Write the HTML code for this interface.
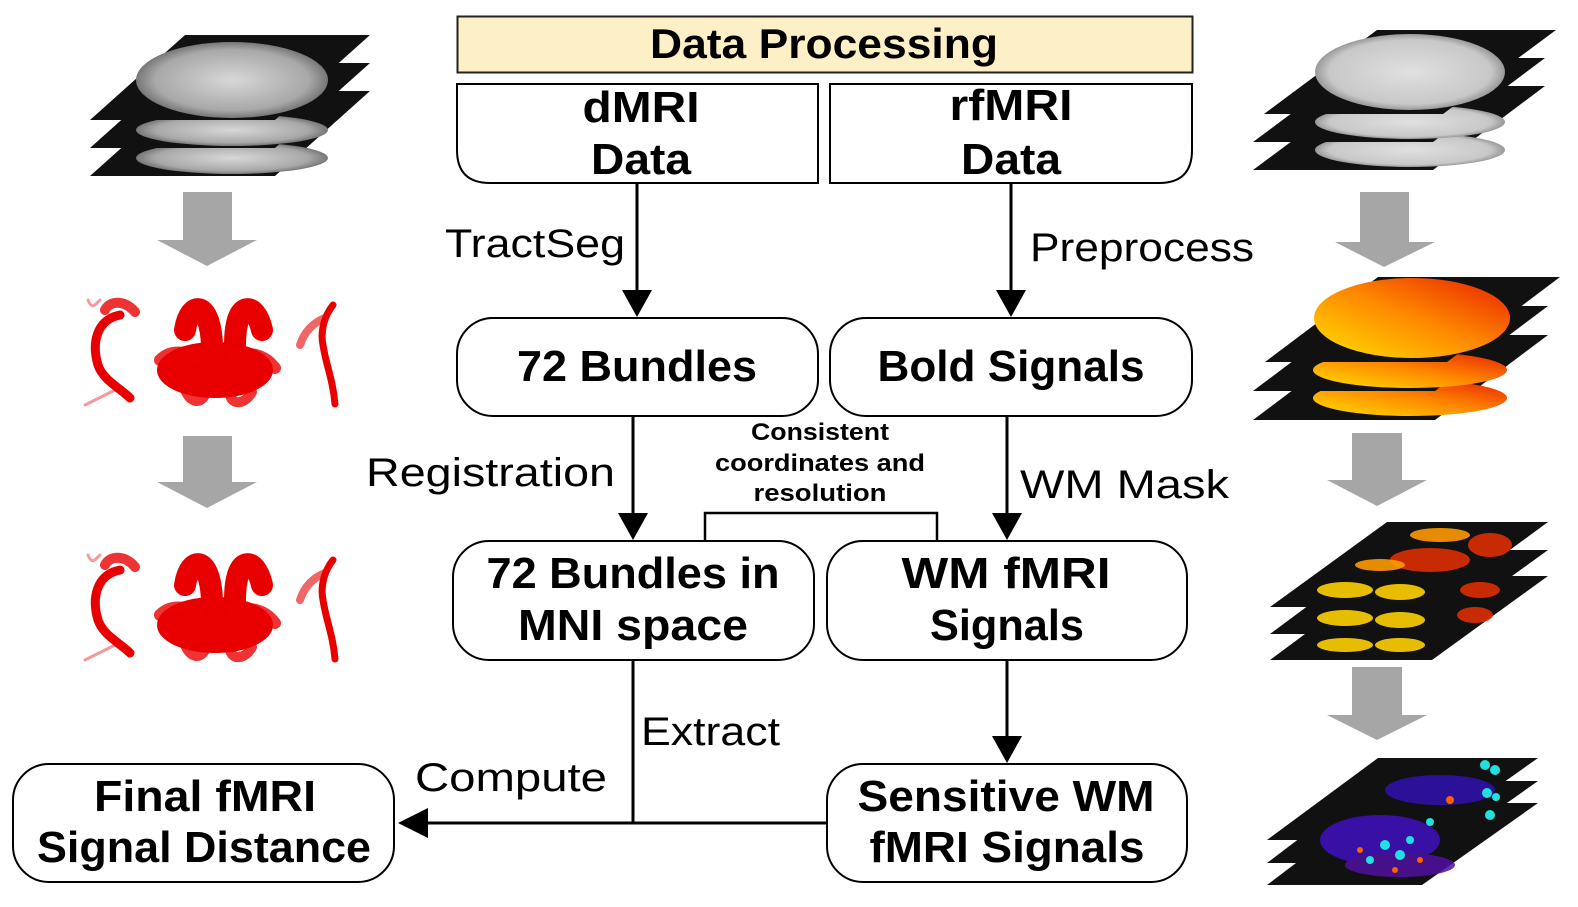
<!DOCTYPE html>
<html><head><meta charset="utf-8"><style>
html,body{margin:0;padding:0;background:#fff;}
svg{display:block;}
.b{font-family:"Liberation Sans",sans-serif;font-weight:bold;fill:#000;}
.r{font-family:"Liberation Sans",sans-serif;fill:#000;}
</style></head><body>
<svg width="1578" height="907" viewBox="0 0 1578 907" xmlns="http://www.w3.org/2000/svg">
<defs>
<radialGradient id="gg" cx="50%" cy="50%" r="50%"><stop offset="0" stop-color="#d8d8d8"/><stop offset="0.8" stop-color="#a8a8a8"/><stop offset="1" stop-color="#777"/></radialGradient>
<radialGradient id="gl" cx="50%" cy="50%" r="50%"><stop offset="0" stop-color="#e0e0e0"/><stop offset="0.85" stop-color="#c8c8c8"/><stop offset="1" stop-color="#999"/></radialGradient>
<linearGradient id="go" x1="0" y1="1" x2="1" y2="0"><stop offset="0" stop-color="#ffe000"/><stop offset="0.5" stop-color="#ff8a00"/><stop offset="1" stop-color="#e82000"/></linearGradient>
<marker id="ah" markerWidth="10" markerHeight="10" refX="9" refY="5" orient="auto" markerUnits="userSpaceOnUse"></marker>
</defs>

<!-- Left dMRI stack -->
<g>
<polygon points="185,91 370,91 275,176 90,176" fill="#111"/>
<ellipse cx="232" cy="158" rx="96" ry="16" fill="url(#gg)"/>
<polygon points="185,63 370,63 275,148 90,148" fill="#111"/>
<ellipse cx="232" cy="130" rx="96" ry="16" fill="url(#gg)"/>
<polygon points="185,35 370,35 275,120 90,120" fill="#111"/>
<ellipse cx="232" cy="80" rx="96" ry="38" fill="url(#gg)"/>
</g>

<!-- Right grey stack -->
<g>
<polygon points="1366,86 1545,86 1433,170 1253,170" fill="#111"/>
<ellipse cx="1410" cy="150" rx="95" ry="17" fill="url(#gl)"/>
<polygon points="1366,58 1545,58 1433,142 1253,142" fill="#111"/>
<ellipse cx="1410" cy="122" rx="95" ry="17" fill="url(#gl)"/>
<polygon points="1377,30 1556,30 1443,114 1264,114" fill="#111"/>
<ellipse cx="1410" cy="72" rx="95" ry="38" fill="url(#gl)"/>
</g>

<!-- Right orange stack -->
<g>
<polygon points="1366,335 1548,335 1435,420 1253,420" fill="#111"/>
<ellipse cx="1410" cy="398" rx="97" ry="18" fill="url(#go)"/>
<polygon points="1366,306 1548,306 1435,391 1253,391" fill="#111"/>
<ellipse cx="1410" cy="370" rx="97" ry="18" fill="url(#go)"/>
<polygon points="1378,277 1560,277 1447,362 1265,362" fill="#111"/>
<ellipse cx="1412" cy="318" rx="98" ry="40" fill="url(#go)"/>
</g>

<!-- Right star stack -->
<g>
<polygon points="1383,576 1548,576 1432,660 1270,660" fill="#111"/>
<polygon points="1383,550 1548,550 1432,634 1270,634" fill="#111"/>
<polygon points="1387,522 1548,522 1432,607 1270,607" fill="#111"/>
<g fill="#ffd000" opacity="0.9">
<ellipse cx="1345" cy="590" rx="28" ry="8"/><ellipse cx="1400" cy="592" rx="25" ry="8"/>
<ellipse cx="1345" cy="618" rx="28" ry="8"/><ellipse cx="1400" cy="620" rx="25" ry="8"/>
<ellipse cx="1345" cy="645" rx="28" ry="7"/><ellipse cx="1400" cy="645" rx="25" ry="7"/>
</g>
<g fill="#e83000" opacity="0.85">
<ellipse cx="1430" cy="560" rx="40" ry="12"/><ellipse cx="1490" cy="545" rx="22" ry="12"/>
<ellipse cx="1480" cy="590" rx="20" ry="8"/><ellipse cx="1475" cy="615" rx="18" ry="8"/>
</g>
<g fill="#ff9a00" opacity="0.9"><ellipse cx="1440" cy="535" rx="30" ry="7"/><ellipse cx="1380" cy="565" rx="25" ry="6"/></g>
</g>

<!-- Right blue stack -->
<g>
<polygon points="1375,803 1538,803 1422,885 1267,885" fill="#111"/>
<polygon points="1375,781 1538,781 1422,863 1267,863" fill="#111"/>
<polygon points="1378,758 1538,758 1422,840 1267,840" fill="#111"/>
<g opacity="0.85">
<ellipse cx="1380" cy="840" rx="60" ry="25" fill="#4010c0"/>
<ellipse cx="1440" cy="790" rx="55" ry="15" fill="#3010b0"/>
<ellipse cx="1400" cy="865" rx="55" ry="12" fill="#5010a0"/>
</g>
<g fill="#20e0e0">
<circle cx="1485" cy="765" r="5"/><circle cx="1495" cy="770" r="5"/><circle cx="1487" cy="793" r="5"/><circle cx="1496" cy="797" r="4"/><circle cx="1490" cy="815" r="5"/>
<circle cx="1385" cy="845" r="5"/><circle cx="1400" cy="855" r="5"/><circle cx="1370" cy="860" r="4"/><circle cx="1410" cy="840" r="4"/><circle cx="1430" cy="822" r="4"/>
</g>
<g fill="#ff6000"><circle cx="1360" cy="850" r="3"/><circle cx="1420" cy="860" r="3"/><circle cx="1450" cy="800" r="4"/><circle cx="1395" cy="870" r="3"/></g>
</g>

<!-- Gray block arrows -->
<g fill="#a6a6a6">
<polygon points="183,192 232,192 232,240 257,240 207,266 157,240 183,240"/>
<polygon points="183,436 232,436 232,482 257,482 207,508 157,482 183,482"/>
<polygon points="1360,192 1409,192 1409,242 1435,242 1384,267 1335,242 1360,242"/>
<polygon points="1352,433 1402,433 1402,480 1427,480 1377,506 1327,480 1352,480"/>
<polygon points="1352,667 1402,667 1402,715 1427,715 1377,740 1327,715 1352,715"/>
</g>

<!-- Fibers -->
<g id="fib" fill="none" stroke="#e80000" stroke-linecap="round">
<path d="M120,315 C95,320 92,345 98,365 C103,380 120,388 130,398" stroke-width="9"/>
<path d="M105,310 C110,300 125,300 135,312" stroke-width="10" opacity="0.8"/>
<path d="M115,390 C105,395 95,400 85,405" stroke-width="3" opacity="0.4"/>
<path d="M100,300 C95,305 92,310 88,300" stroke-width="3" opacity="0.4"/>
<path d="M185,330 C190,300 210,300 212,345 M235,345 C235,300 255,300 262,330" stroke-width="22"/>
<ellipse cx="215" cy="370" rx="55" ry="25" fill="#e80000" stroke="#e80000" stroke-width="6"/>
<path d="M160,360 C170,350 185,350 200,360" stroke-width="12" opacity="0.8"/>
<path d="M232,358 C250,350 265,355 275,368" stroke-width="12" opacity="0.8"/>
<path d="M185,390 C190,402 200,405 205,395 M230,395 C232,405 245,405 252,392" stroke-width="10" opacity="0.8"/>
<path d="M333,305 C325,315 320,330 323,345 C326,365 333,380 335,404" stroke-width="7"/>
<path d="M325,318 C315,322 305,330 300,345" stroke-width="8" opacity="0.6"/>
</g>
<use href="#fib" transform="translate(0,255)"/>

<!-- Title -->
<rect x="457.5" y="16.5" width="735" height="56" fill="#fdefc6" stroke="#222" stroke-width="2"/>
<text class="b" x="824" y="58" font-size="42" text-anchor="middle" textLength="348" lengthAdjust="spacingAndGlyphs">Data Processing</text>

<g fill="#fff" stroke="#000" stroke-width="2">
<path d="M457,84 H818 V183 H490 Q457,183 457,150 Z"/>
<path d="M830,84 H1192 V150 Q1192,183 1159,183 H830 Z"/>
<rect x="457" y="318" width="361" height="98" rx="36"/>
<rect x="830" y="318" width="362" height="98" rx="36"/>
<rect x="453" y="541" width="361" height="119" rx="36"/>
<rect x="827" y="541" width="360" height="119" rx="36"/>
<rect x="827" y="764" width="360" height="118" rx="36"/>
<rect x="13" y="764" width="381" height="118" rx="36"/>
</g>

<g class="b" font-size="44" text-anchor="middle">
<text x="641" y="122" textLength="117" lengthAdjust="spacingAndGlyphs">dMRI</text>
<text x="641" y="174" textLength="100" lengthAdjust="spacingAndGlyphs">Data</text>
<text x="1011" y="120" textLength="123" lengthAdjust="spacingAndGlyphs">rfMRI</text>
<text x="1011" y="174" textLength="100" lengthAdjust="spacingAndGlyphs">Data</text>
<text x="637" y="381" textLength="240" lengthAdjust="spacingAndGlyphs">72 Bundles</text>
<text x="1011" y="381" textLength="267" lengthAdjust="spacingAndGlyphs">Bold Signals</text>
<text x="633" y="588" textLength="293" lengthAdjust="spacingAndGlyphs">72 Bundles in</text>
<text x="633" y="640" textLength="230" lengthAdjust="spacingAndGlyphs">MNI space</text>
<text x="1006" y="588" textLength="209" lengthAdjust="spacingAndGlyphs">WM fMRI</text>
<text x="1007" y="640" textLength="154" lengthAdjust="spacingAndGlyphs">Signals</text>
<text x="1006" y="811" textLength="297" lengthAdjust="spacingAndGlyphs">Sensitive WM</text>
<text x="1007" y="862" textLength="275" lengthAdjust="spacingAndGlyphs">fMRI Signals</text>
<text x="205" y="811" textLength="222" lengthAdjust="spacingAndGlyphs">Final fMRI</text>
<text x="204" y="862" textLength="334" lengthAdjust="spacingAndGlyphs">Signal Distance</text>
</g>

<!-- connectors -->
<g stroke="#000" stroke-width="3" fill="none">
<line x1="637" y1="183" x2="637" y2="292"/>
<line x1="1011" y1="183" x2="1011" y2="292"/>
<line x1="633" y1="416" x2="633" y2="515"/>
<line x1="1007" y1="416" x2="1007" y2="515"/>
<line x1="1007" y1="660" x2="1007" y2="738"/>
<line x1="633" y1="660" x2="633" y2="823"/>
<line x1="827" y1="823" x2="425" y2="823"/>
<polyline points="705,541 705,513 937,513 937,541" stroke-width="2.5"/>
</g>
<g fill="#000">
<polygon points="622,290 652,290 637,317"/>
<polygon points="996,290 1026,290 1011,317"/>
<polygon points="618,513 648,513 633,540"/>
<polygon points="992,513 1022,513 1007,540"/>
<polygon points="992,736 1022,736 1007,763"/>
<polygon points="428,808 428,838 398,823"/>
</g>

<g class="r" font-size="40">
<text x="445" y="257" textLength="180" lengthAdjust="spacingAndGlyphs">TractSeg</text>
<text x="1030" y="261" textLength="224" lengthAdjust="spacingAndGlyphs">Preprocess</text>
<text x="366" y="486" textLength="249" lengthAdjust="spacingAndGlyphs">Registration</text>
<text x="1020" y="498" textLength="209" lengthAdjust="spacingAndGlyphs">WM Mask</text>
<text x="641" y="745" textLength="139" lengthAdjust="spacingAndGlyphs">Extract</text>
<text x="415" y="791" textLength="192" lengthAdjust="spacingAndGlyphs">Compute</text>
</g>
<g class="b" font-size="24" text-anchor="middle">
<text x="820" y="440" textLength="138" lengthAdjust="spacingAndGlyphs">Consistent</text>
<text x="820" y="471" textLength="210" lengthAdjust="spacingAndGlyphs">coordinates and</text>
<text x="820" y="501" textLength="133" lengthAdjust="spacingAndGlyphs">resolution</text>
</g>
</svg>
</body></html>
